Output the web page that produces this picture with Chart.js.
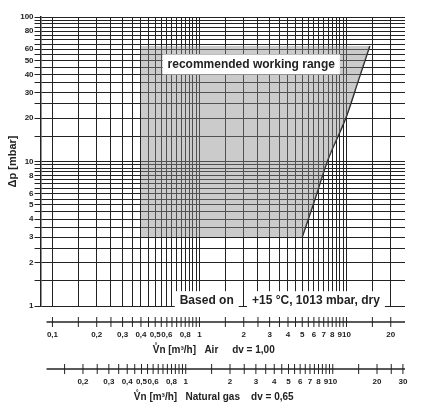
<!DOCTYPE html>
<html>
<head>
<meta charset="utf-8">
<script src="https://cdn.jsdelivr.net/npm/chart.js@4"></script>
<style>body{margin:0;background:#fff}</style>
</head>
<body>
<canvas id="myChart" width="428" height="412"></canvas>
<script>
// grid values (air flow, m3/h) and pressure (mbar)
const xGrid = [0.1,0.15,0.2,0.25,0.3,0.35,0.4,0.45,0.5,0.55,0.6,0.65,0.7,0.75,0.8,0.85,0.9,0.95,1,
  1.5,2,2.5,3,3.5,4,4.5,5,5.5,6,6.5,7,7.5,8,8.5,9,9.5,10,15,20]
const yGrid = [1,1.5,2,2.5,3,3.5,4,4.5,5,5.5,6,6.5,7,7.5,8,8.5,9,9.5,10,15,20,25,30,35,40,45,50,55,60,65,70,75,80,85,90,95,100]
const yLabels = [1,2,3,4,5,6,8,10,20,30,40,50,60,80,100]
const airLabels = [0.1,0.2,0.3,0.4,0.5,0.6,0.8,1,2,3,4,5,6,7,8,9,10,20]
const ngGrid = [0.15,0.2,0.25,0.3,0.35,0.4,0.45,0.5,0.55,0.6,0.65,0.7,0.75,0.8,0.85,0.9,0.95,1,
  1.5,2,2.5,3,3.5,4,4.5,5,5.5,6,6.5,7,7.5,8,8.5,9,9.5,10,15,20,25,30]
const ngLabels = [0.2,0.3,0.4,0.5,0.6,0.8,1,2,3,4,5,6,7,8,9,10,20,30]
const ngFactor = 1.24  // 1/sqrt(0.65)

// recommended working range
const rangeTopX = [0.4, 14.4]
const rangeTopY = [63, 63]
const curveX = [0.4, 5, 6, 7.4, 10, 12, 14.4]
const curveY = [3, 3, 5.2, 10, 20.6, 36, 63]

const fmt = (v) => String(v).replace('.', ',')
const pts = (xs, ys) => xs.map((x, i) => ({ x: x, y: ys[i] }))

const extraAxes = {
    id: 'extraAxes',
    afterDraw(chart) {
        const c = chart.ctx
        const sx = chart.scales.x
        const sy = chart.scales.y
        const L = chart.chartArea.left, R = chart.chartArea.right
        c.save()
        c.strokeStyle = '#222'
        c.fillStyle = '#222'
        c.lineWidth = 1.5
        // text boxes
        const box = (txt, px, py, size) => {
            c.font = 'bold ' + size + 'px Arial, "Liberation Sans", sans-serif'
            const w = c.measureText(txt).width
            c.fillStyle = '#fff'
            c.fillRect(px - w / 2 - 5, py - size / 2 - 4, w + 10, size + 8)
            c.fillStyle = '#222'
            c.textAlign = 'center'
            c.textBaseline = 'middle'
            c.fillText(txt, px, py)
        }
        box('recommended working range', sx.getPixelForValue(2.25), sy.getPixelForValue(47), 12)
        box('Based on', sx.getPixelForValue(1.12), sy.getPixelForValue(1.08), 12)
        box('+15 °C, 1013 mbar, dry', sx.getPixelForValue(6.2), sy.getPixelForValue(1.08), 12)

        const drawAxis = (y, grid, labels, factor, title, x0) => {
            c.lineWidth = 1.5
            c.beginPath()
            c.moveTo(x0, y)
            c.lineTo(R, y)
            c.stroke()
            c.lineWidth = 1
            grid.forEach((v) => {
                const px = sx.getPixelForValue(v / factor)
                c.beginPath()
                c.moveTo(px, y - 5)
                c.lineTo(px, y + 5)
                c.stroke()
            })
            c.font = 'bold 8px Arial, "Liberation Sans", sans-serif'
            c.textAlign = 'center'
            c.textBaseline = 'top'
            labels.forEach((v) => {
                c.fillText(fmt(v), sx.getPixelForValue(v / factor), y + 9)
            })
            c.font = 'bold 10px Arial, "Liberation Sans", sans-serif'
            c.fillText(title, sx.getPixelForValue(1.25), y + 23)
        }
        drawAxis(322, xGrid, airLabels, 1, 'V\u030An [m\u00B3/h]   Air     dv = 1,00', L + 6)
        drawAxis(369, ngGrid, ngLabels, ngFactor, 'V\u030An [m\u00B3/h]   Natural gas    dv = 0,65', L + 6)
        c.restore()
    }
}

new Chart(document.getElementById('myChart'), {
    type: 'scatter',
    data: {
        datasets: [{
            data: pts(rangeTopX, rangeTopY),
            showLine: true,
            borderWidth: 0,
            pointRadius: 0,
            fill: '+1',
            backgroundColor: 'rgba(140,140,140,0.45)'
        }, {
            data: pts(curveX, curveY),
            showLine: true,
            borderWidth: 0,
            pointRadius: 0,
            fill: false
        }, {
            data: pts(curveX.slice(1), curveY.slice(1)),
            showLine: true,
            borderColor: '#222',
            borderWidth: 1.5,
            cubicInterpolationMode: 'monotone',
            pointRadius: 0,
            fill: false
        }]
    },
    options: {
        responsive: false,
        animation: false,
        layout: { padding: { left: 0, top: 17, right: 23, bottom: 106 } },
        plugins: { legend: { display: false }, tooltip: { enabled: false } },
        scales: {
            x: {
                type: 'logarithmic',
                min: 0.083,
                max: 25,
                afterBuildTicks: (s) => { s.ticks = xGrid.map((v) => ({ value: v })) },
                ticks: { display: false },
                grid: { color: '#222', lineWidth: 1, drawTicks: false },
                border: { display: false }
            },
            y: {
                type: 'logarithmic',
                min: 1,
                max: 100,
                afterBuildTicks: (s) => { s.ticks = yGrid.map((v) => ({ value: v })) },
                ticks: {
                    autoSkip: false,
                    padding: 1,
                    color: '#222',
                    font: { size: 8, weight: 'bold', family: 'Arial, "Liberation Sans", sans-serif' },
                    callback: (v) => yLabels.includes(v) ? String(v) : ''
                },
                grid: { color: '#222', lineWidth: 1, tickLength: 6 },
                border: { display: true, color: '#222', width: 1.5 },
                title: {
                    display: true,
                    text: 'Δp [mbar]',
                    padding: { top: 6, bottom: 0 },
                    color: '#222',
                    font: { size: 11, weight: 'bold', family: 'Arial, "Liberation Sans", sans-serif' }
                }
            }
        }
    },
    plugins: [extraAxes]
})
</script>
</body>
</html>
